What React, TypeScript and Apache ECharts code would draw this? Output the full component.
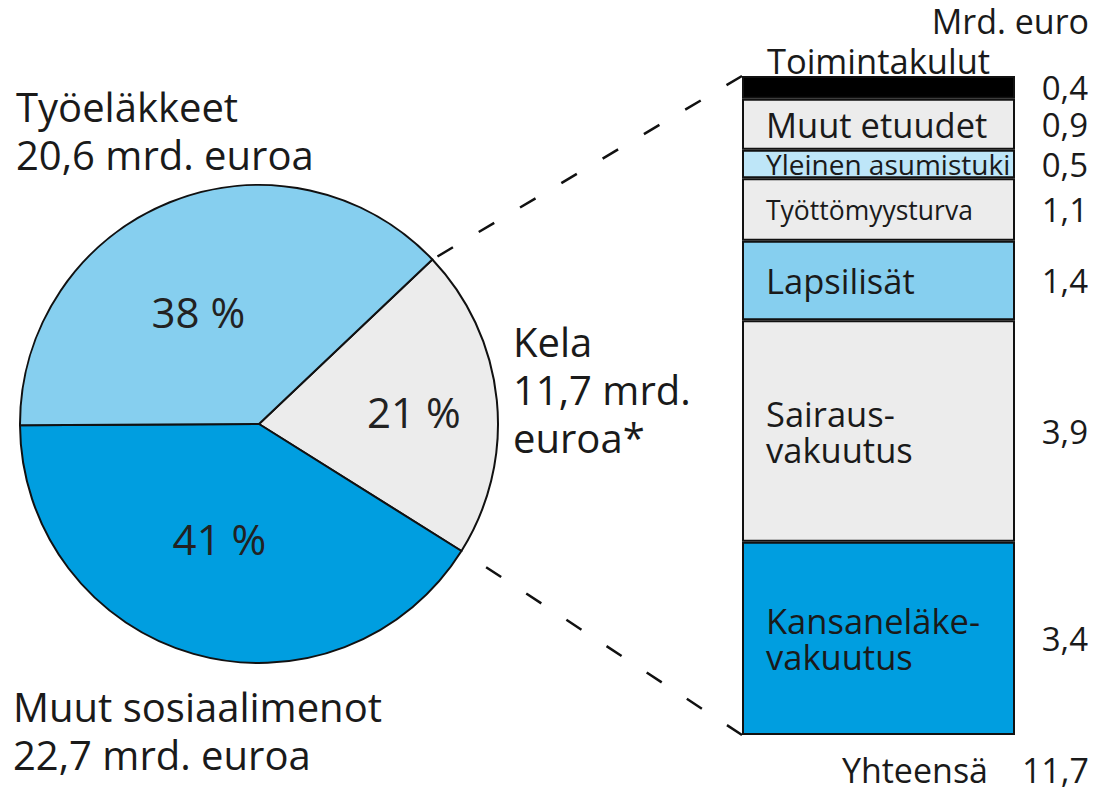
import React, { useEffect, useRef } from "react";
import * as echarts from "echarts";

// ---- Pie data (share of social expenditure, %) ----
const pieNames = ["Kela", "Muut sosiaalimenot", "Työeläkkeet"];
const pieShares = [21, 41, 38];
const pieColors = ["#ECECEC", "#009EE0", "#86CFEF"];

// ---- Kela breakdown (bn euro), bottom to top ----
const barNames = [
  "Kansaneläke-\nvakuutus",
  "Sairaus-\nvakuutus",
  "Lapsilisät",
  "Työttömyysturva",
  "Yleinen asumistuki",
  "Muut etuudet",
  "Toimintakulut",
];
const barValues = [3.4, 3.9, 1.4, 1.1, 0.5, 0.9, 0.4];
const barValueLabels = ["3,4", "3,9", "1,4", "1,1", "0,5", "0,9", "0,4"];
const barColors = ["#009EE0", "#ECECEC", "#86CFEF", "#ECECEC", "#BEE6F8", "#ECECEC", "#000000"];
const totalLabel = "11,7";

const FONT = "Open Sans";

export default function App() {
  const ref = useRef<HTMLDivElement>(null);
  useEffect(() => {
    if (!ref.current) return;
    const chart = echarts.init(ref.current, null, { renderer: "svg" });

    const cx = 259, cy = 424, R = 239;
    const startAngle = 43.5;
    const sumShares = pieShares.reduce((a, b) => a + b, 0);
    const a1 = (startAngle * Math.PI) / 180;
    const a2 = ((startAngle - (pieShares[0] / sumShares) * 360) * Math.PI) / 180;
    const p1 = [cx + R * Math.cos(a1), cy - R * Math.sin(a1)];
    const p2 = [cx + R * Math.cos(a2), cy - R * Math.sin(a2)];

    const gLeft = 742, gTop = 76, gW = 273, gH = 659;
    const barMax = barValues.reduce((a, b) => a + b, 0);

    const nameFont: Record<string, number> = {
      "Yleinen asumistuki": 28,
      "Työttömyysturva": 26.5,
    };

    const series: any[] = [
      {
        type: "pie",
        center: [cx, cy],
        radius: R,
        startAngle,
        clockwise: true,
        silent: true,
        data: pieNames.map((n, i) => ({
          name: n,
          value: pieShares[i],
          itemStyle: { color: pieColors[i] },
        })),
        itemStyle: { borderColor: "#111", borderWidth: 2 },
        label: {
          show: true,
          position: "inside",
          formatter: (p: any) => `${p.value} %`,
          fontFamily: FONT,
          fontSize: 42,
          color: "#222",
        },
        labelLayout: (p: any) => {
          const d = [[33, 0], [-6, -3], [-15, 1]][p.dataIndex];
          return { dx: d[0], dy: d[1] };
        },
        labelLine: { show: false },
      },
    ];

    barNames.forEach((n, i) => {
      const isTop = i === barNames.length - 1;
      series.push({
        type: "bar",
        name: n,
        stack: "a",
        barWidth: "100%",
        barGap: "-100%",
        silent: true,
        data: [barValues[i]],
        itemStyle: { color: barColors[i], borderColor: "#111", borderWidth: 2 },
        label: {
          show: true,
          position: isTop ? "top" : "insideLeft",
          distance: isTop ? -2 : 24,
          formatter: n,
          fontFamily: FONT,
          fontSize: nameFont[n] || 34.5,
          lineHeight: 36,
          color: "#1a1a1a",
        },
      });
      series.push({
        type: "bar",
        name: n + " arvo",
        stack: "b",
        barWidth: "100%",
        barGap: "-100%",
        silent: true,
        data: [barValues[i]],
        itemStyle: { color: "rgba(0,0,0,0)" },
        label: {
          show: true,
          position: [gW + 73, "50%"],
          align: "right",
          verticalAlign: "middle",
          formatter: barValueLabels[i],
          fontFamily: FONT,
          fontSize: 33,
          lineHeight: 30,
          color: "#1a1a1a",
        },
      });
    });

    const txt = (x: number, y: number, text: string, size: number, lh: number, align = "left") => ({
      type: "text",
      x,
      y,
      silent: true,
      style: {
        text,
        fontFamily: FONT,
        fontSize: size,
        lineHeight: lh,
        fill: "#1a1a1a",
        align,
        verticalAlign: "top",
      },
    });

    chart.setOption({
      animation: false,
      grid: { left: gLeft, top: gTop, width: gW, height: gH },
      xAxis: { type: "category", data: ["Kela"], show: false },
      yAxis: { type: "value", min: 0, max: barMax, show: false },
      series,
      graphic: [
        {
          type: "line",
          silent: true,
          shape: { x1: gLeft, y1: gTop, x2: p1[0], y2: p1[1] },
          style: { stroke: "#111", lineWidth: 2.5, lineDash: [18, 30] },
        },
        {
          type: "line",
          silent: true,
          shape: { x1: gLeft, y1: gTop + gH, x2: p2[0], y2: p2[1] },
          style: { stroke: "#111", lineWidth: 2.5, lineDash: [18, 30] },
        },
        txt(16, 82, "Työeläkkeet\n20,6 mrd. euroa", 40, 48),
        txt(513, 317, "Kela\n11,7 mrd.\neuroa*", 40, 48),
        txt(13, 682, "Muut sosiaalimenot\n22,7 mrd. euroa", 40, 48),
        txt(1089, 4, "Mrd. euro", 34, 34, "right"),
        txt(988, 753, "Yhteensä", 34, 34, "right"),
        txt(1089, 753, totalLabel, 34, 34, "right"),
      ],
    });
    return () => chart.dispose();
  }, []);
  return (
    <div
      ref={ref}
      style={{ position: "absolute", left: 0, top: 0, width: 1095, height: 793, background: "#fff" }}
    />
  );
}
